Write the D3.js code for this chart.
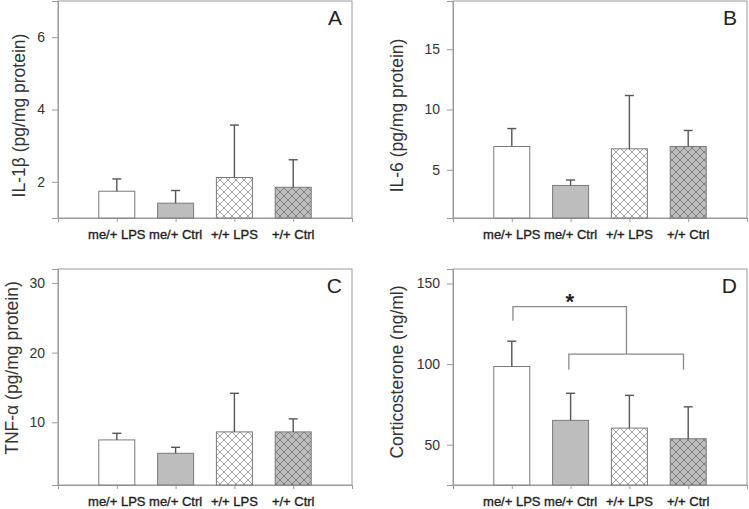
<!DOCTYPE html>
<html><head><meta charset="utf-8">
<script src="https://cdn.jsdelivr.net/npm/d3@7"></script>
<style>body{margin:0;background:#fff}svg{display:block}text{font-family:Arial,"Liberation Sans",sans-serif}</style>
</head><body>
<script>
const categories = ["me/+ LPS","me/+ Ctrl","+/+ LPS","+/+ Ctrl"];
const il1bMean = [1.74,1.41,2.12,1.85];
const il1bSD   = [0.34,0.35,1.45,0.76];
const il6Mean  = [6.93,3.70,6.74,6.93];
const il6SD    = [1.49,0.45,4.42,1.33];
const tnfMean  = [7.47,5.55,8.62,8.62];
const tnfSD    = [0.95,0.86,5.54,1.87];
const cortMean = [98.5,65.1,60.3,53.7];
const cortSD   = [15.7,16.8,20.3,19.8];
const ticksA = [2,4,6], ticksB = [5,10,15], ticksC = [10,20,30], ticksD = [50,100,150];
// significance brackets for D (x in category index units, y in data units)
const bracketTop = {x0:0.02, x1:1.95, y:135.6, tick:126.9};
const bracketLow = {x0:0.97, x1:2.92, y:106.2, tick:96.5};

const W=749,H=509;
const svg=d3.select("body").append("svg").attr("width",W).attr("height",H);
const defs=svg.append("defs");
function hatch(id,bg,line){
  const p=defs.append("pattern").attr("id",id).attr("patternUnits","userSpaceOnUse").attr("width",8).attr("height",8);
  p.append("rect").attr("width",8).attr("height",8).attr("fill",bg);
  p.append("path").attr("d","M0,0L8,8M0,8L8,0M-1,1L1,-1M7,9L9,7M-1,7L1,9M7,-1L9,1").attr("stroke",line).attr("stroke-width",0.8);
}
hatch("hw","#fff","#8a8a8a");
hatch("hg","#bdbdbd","#6e6e6e");
const fills=["#ffffff","#bdbdbd","url(#hw)","url(#hg)"];

function panel(o){
  const g=svg.append("g");
  const x=d3.scaleLinear().domain([-1,4]).range([o.x0,o.x1]);
  const y=d3.scaleLinear().domain(o.domain).range([o.y1,o.y0]);
  const bw=36;
  g.append("rect").attr("x",o.x0).attr("y",o.y0).attr("width",o.x1-o.x0).attr("height",o.y1-o.y0)
    .attr("fill","none").attr("stroke","#9a9a9a").attr("stroke-width",1);
  const ya=g.append("g").attr("transform",`translate(${o.x0},0)`)
    .call(d3.axisLeft(y).tickValues(o.ticks).tickSize(6).tickPadding(7).tickFormat(d3.format("d")));
  ya.select(".domain").attr("stroke","#9a9a9a");
  ya.selectAll(".tick line").attr("stroke","#9a9a9a");
  ya.selectAll(".tick text").attr("font-size",14).attr("fill","#333").attr("font-family","Arial,'Liberation Sans',sans-serif");
  const xa=g.append("g").attr("transform",`translate(0,${o.y1})`)
    .call(d3.axisBottom(x).tickValues([-1,0,1,2,3,4]).tickSize(4).tickFormat(""));
  xa.select(".domain").attr("stroke","#9a9a9a");
  xa.selectAll(".tick line").attr("stroke","#9a9a9a");
  g.selectAll(".cat").data(categories).enter().append("text")
    .attr("x",(d,i)=>x(i)).attr("y",o.y1+21).attr("text-anchor","middle")
    .attr("font-size",13).attr("fill","#222").attr("stroke","#222").attr("stroke-width",0.35).text(d=>d);
  g.selectAll(".bar").data(o.mean).enter().append("rect")
    .attr("x",(d,i)=>x(i)-bw/2).attr("width",bw)
    .attr("y",d=>y(d)).attr("height",d=>y(o.domain[0])-y(d))
    .attr("fill",(d,i)=>fills[i]).attr("stroke","#7a7a7a").attr("stroke-width",1);
  o.mean.forEach((m,i)=>{
    const t=m+o.sd[i];
    g.append("line").attr("x1",x(i)).attr("x2",x(i)).attr("y1",y(m)).attr("y2",y(t)).attr("stroke","#555").attr("stroke-width",1.4);
    g.append("line").attr("x1",x(i)-4.5).attr("x2",x(i)+4.5).attr("y1",y(t)).attr("y2",y(t)).attr("stroke","#555").attr("stroke-width",1.4);
  });
  g.append("text").attr("transform",`translate(${o.tx},${(o.y0+o.y1)/2+o.tdy}) rotate(-90)`)
    .attr("text-anchor","middle").attr("font-size",17.5).attr("fill","#333").text(o.title);
  g.append("text").attr("x",o.x1-10).attr("y",o.y0+24).attr("text-anchor","end")
    .attr("font-size",21).attr("fill","#222").text(o.letter);
  return {g,x,y};
}

panel({x0:58,x1:352,y0:1,y1:218,domain:[1,7],ticks:ticksA,mean:il1bMean,sd:il1bSD,title:"IL-1β (pg/mg protein)",letter:"A",tx:25,tdy:6});
panel({x0:453,x1:747,y0:1,y1:218,domain:[1,19],ticks:ticksB,mean:il6Mean,sd:il6SD,title:"IL-6 (pg/mg protein)",letter:"B",tx:403,tdy:6});
panel({x0:58,x1:352,y0:269,y1:485,domain:[1,32],ticks:ticksC,mean:tnfMean,sd:tnfSD,title:"TNF-α (pg/mg protein)",letter:"C",tx:18,tdy:-9});
const pD=panel({x0:453,x1:747,y0:269,y1:485,domain:[25,159],ticks:ticksD,mean:cortMean,sd:cortSD,title:"Corticosterone (ng/ml)",letter:"D",tx:403,tdy:-5});

const {g,x,y}=pD;
const bs={stroke:"#8a8a8a","stroke-width":1.3,fill:"none"};
function path(d){const p=g.append("path").attr("d",d);Object.entries(bs).forEach(([k,v])=>p.attr(k,v));}
path(`M${x(bracketTop.x0)},${y(bracketTop.tick)}V${y(bracketTop.y)}H${x(bracketTop.x1)}V${y(bracketLow.y)}`);
path(`M${x(bracketLow.x0)},${y(bracketLow.tick)}V${y(bracketLow.y)}H${x(bracketLow.x1)}V${y(bracketLow.tick)}`);
g.append("text").attr("x",(x(bracketTop.x0)+x(bracketTop.x1))/2).attr("y",y(bracketTop.y)+2)
  .attr("text-anchor","middle").attr("font-size",22).attr("font-weight","bold").attr("fill","#222").text("*");
</script>
</body></html>
